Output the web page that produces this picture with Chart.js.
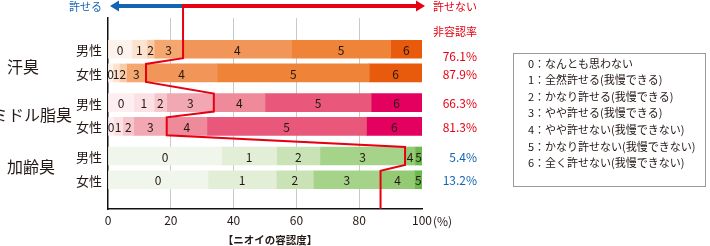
<!DOCTYPE html>
<html><head><meta charset="utf-8">
<script src="https://cdn.jsdelivr.net/npm/chart.js@4.4.1/dist/chart.umd.min.js"></script>
<style>html,body{margin:0;padding:0;background:#fff;}#wrap{width:710px;height:246px;position:relative;}</style>
</head><body><div id="wrap"><canvas id="c" width="710" height="246"></canvas></div>
<script>
// ---- data ----
const groups = ['汗臭', 'ミドル脂臭', '加齢臭'];
const genders = ['男性', '女性'];
const levelNames = ['0', '1', '2', '3', '4', '5', '6'];
// rows: 汗臭男性, 汗臭女性, ミドル男性, ミドル女性, 加齢男性, 加齢女性
const level0 = [7.6, 1.5, 8.2, 1.8, 36.2, 31.8];
const level1 = [4.8, 2.1, 6.5, 2.9, 17.5, 21.8];
const level2 = [2.3, 2.3, 4.0, 3.5, 13.8, 11.8];
const level3 = [9.2, 6.2, 15.0, 10.5, 27.1, 21.4];
const level4 = [34.6, 22.7, 16.3, 12.8, 3.2, 10.8];
const level5 = [31.5, 48.4, 33.8, 50.8, 2.2, 2.4];
const level6 = [10.0, 16.8, 16.2, 17.7, 0, 0];
const nonAcceptRates = ['76.1%', '87.9%', '66.3%', '81.3%', '5.4%', '13.2%'];
const xTicks = [0, 20, 40, 60, 80, 100];
const legendItems = ['0：なんとも思わない', '1：全然許せる(我慢できる)', '2：かなり許せる(我慢できる)', '3：やや許せる(我慢できる)', '4：やや許せない(我慢できない)', '5：かなり許せない(我慢できない)', '6：全く許せない(我慢できない)'];
const xTitle = '【ニオイの容認度】';
const rateHeader = '非容認率';
const leftArrowText = '許せる';
const rightArrowText = '許せない';

// ---- styling ----
const FONT = '"Noto Sans CJK JP", "Noto Sans", sans-serif';
const RED = '#e60012', BLUE = '#1464b4', TXT = '#231815';
const palettes = [
  ['#fdf3ec', '#fce3d0', '#f9cba6', '#f4a76e', '#f29558', '#ef8439', '#e85a0c'],
  ['#fdeff1', '#fbe0e4', '#f7c6cd', '#f2a8b2', '#ef8a9b', '#e9587a', '#e3005e'],
  ['#f0f6eb', '#e2efd6', '#c9e3b6', '#a5d389', '#93ca73', '#6db94d', '#4da12e']
];
const rateColors = [RED, RED, RED, RED, BLUE, BLUE];
const levels = [level0, level1, level2, level3, level4, level5, level6];
const nRows = level0.length;
const rowPos = Array.from({length: nRows}, (_, i) => Math.floor(i / 2) * 9 + (i % 2) * 4);

const datasets = levels.map((arr, k) => ({
  label: levelNames[k],
  data: arr.map((v, i) => ({x: v, y: rowPos[i]})),
  backgroundColor: arr.map((v, i) => palettes[Math.floor(i / 2)][k]),
  borderWidth: 0,
  barThickness: 18,
}));

const ARROW_Y = 6;
const overlay = {
  id: 'overlay',
  afterDatasetsDraw(chart) {
    const ctx = chart.ctx, ca = chart.chartArea;
    ctx.save();
    // segment numbers
    ctx.font = '12px ' + FONT; ctx.fillStyle = TXT;
    ctx.textAlign = 'center'; ctx.textBaseline = 'middle';
    levels.forEach((arr, k) => {
      const meta = chart.getDatasetMeta(k);
      meta.data.forEach((el, i) => {
        if (arr[i] <= 0) return;
        ctx.fillText(levelNames[k], (el.x + el.base) / 2, el.y + 1);
      });
    });
    // red zigzag at boundary between 3 and 4
    const m3 = chart.getDatasetMeta(3).data;
    ctx.beginPath();
    ctx.strokeStyle = RED; ctx.lineWidth = 2; ctx.lineJoin = 'miter';
    ctx.moveTo(m3[0].x, ARROW_Y);
    m3.forEach(el => { ctx.lineTo(el.x, el.y - el.height / 2); ctx.lineTo(el.x, el.y + el.height / 2); });
    ctx.lineTo(m3[m3.length - 1].x, ca.bottom);
    ctx.stroke();
    // top arrows
    const x0 = m3[0].x;
    const lt = ca.left + 2, rt = ca.right + 3;
    ctx.lineWidth = 4;
    ctx.strokeStyle = BLUE; ctx.fillStyle = BLUE;
    ctx.beginPath(); ctx.moveTo(x0, ARROW_Y); ctx.lineTo(lt + 8, ARROW_Y); ctx.stroke();
    ctx.beginPath(); ctx.moveTo(lt, ARROW_Y); ctx.lineTo(lt + 9, ARROW_Y - 5.5); ctx.lineTo(lt + 9, ARROW_Y + 5.5); ctx.closePath(); ctx.fill();
    ctx.strokeStyle = RED; ctx.fillStyle = RED;
    ctx.beginPath(); ctx.moveTo(x0 - 1, ARROW_Y); ctx.lineTo(rt - 8, ARROW_Y); ctx.stroke();
    ctx.beginPath(); ctx.moveTo(rt, ARROW_Y); ctx.lineTo(rt - 9, ARROW_Y - 5.5); ctx.lineTo(rt - 9, ARROW_Y + 5.5); ctx.closePath(); ctx.fill();
    ctx.restore();
  },
  afterDraw(chart) {
    const ctx = chart.ctx, ca = chart.chartArea, xs = chart.scales.x;
    const m0 = chart.getDatasetMeta(0).data;
    ctx.save();
    ctx.textBaseline = 'middle';
    // arrow texts
    ctx.font = '11px ' + FONT;
    ctx.fillStyle = BLUE; ctx.textAlign = 'right';
    ctx.fillText(leftArrowText, ca.left - 6, ARROW_Y + 1);
    ctx.fillStyle = RED; ctx.textAlign = 'left';
    ctx.fillText(rightArrowText, ca.right + 11, ARROW_Y + 1);
    // rate header + rates
    ctx.textAlign = 'right';
    ctx.fillStyle = RED; ctx.font = '11px ' + FONT;
    ctx.fillText(rateHeader, 477, 32);
    ctx.font = '12px ' + FONT;
    m0.forEach((el, i) => {
      ctx.fillStyle = rateColors[i];
      ctx.fillText(nonAcceptRates[i], 477, el.y + (i === 0 ? 6 : 0) + 1);
    });
    // gender labels
    ctx.fillStyle = TXT; ctx.font = '13px ' + FONT; ctx.textAlign = 'right';
    m0.forEach((el, i) => ctx.fillText(genders[i % 2], ca.left - 6, el.y + 1));
    // group labels
    ctx.font = '16px ' + FONT;
    const gOff = [6, 0, -1];
    groups.forEach((g, gi) => {
      const y = (m0[gi * 2].y + m0[gi * 2 + 1].y) / 2 + gOff[gi];
      const w = ctx.measureText(g).width;
      if (w > 60) { ctx.textAlign = 'right'; ctx.fillText(g, 72, y); }
      else { ctx.textAlign = 'left'; ctx.fillText(g, 7, y); }
    });
    // (%) and axis title
    ctx.font = '12px ' + FONT; ctx.textAlign = 'left'; ctx.fillStyle = TXT;
    ctx.fillText('(%)', xs.getPixelForValue(100) + 11, 221);
    ctx.font = 'bold 10.5px ' + FONT; ctx.textAlign = 'center';
    ctx.fillText(xTitle, 270, 240);
    // legend box
    ctx.strokeStyle = '#9a9a9a'; ctx.lineWidth = 1;
    ctx.strokeRect(513.5, 53.5, 192, 133);
    ctx.font = '11px ' + FONT; ctx.textAlign = 'left'; ctx.fillStyle = TXT;
    legendItems.forEach((t, i) => ctx.fillText(t, 528, 63.5 + i * 16.6));
    ctx.restore();
  }
};

new Chart(document.getElementById('c'), {
  type: 'bar',
  data: {datasets},
  plugins: [overlay],
  options: {
    indexAxis: 'y',
    responsive: false,
    animation: false,
    devicePixelRatio: 1,
    layout: {padding: {top: 18, right: 288, bottom: 0, left: 0}},
    plugins: {legend: {display: false}, tooltip: {enabled: false}},
    scales: {
      x: {
        type: 'linear', min: 0, max: 100, stacked: true,
        afterBuildTicks: s => { s.ticks = xTicks.map(v => ({value: v})); },
        afterFit: s => { s.height = 37; },
        ticks: {font: {size: 12, family: FONT}, color: TXT, padding: 4},
        grid: {drawTicks: false, color: c => (c.tick && (c.tick.value === 0 || c.tick.value === 100)) ? 'rgba(0,0,0,0)' : '#c9c9c9', lineWidth: 1},
        border: {color: '#111', width: 1.5}
      },
      y: {
        type: 'linear', reverse: true, min: -2.96, max: 24.63, stacked: true,
        afterFit: s => { s.width = 108; },
        ticks: {display: false},
        grid: {display: false, drawTicks: false},
        border: {color: '#111', width: 1.5}
      }
    }
  }
});
</script></body></html>
